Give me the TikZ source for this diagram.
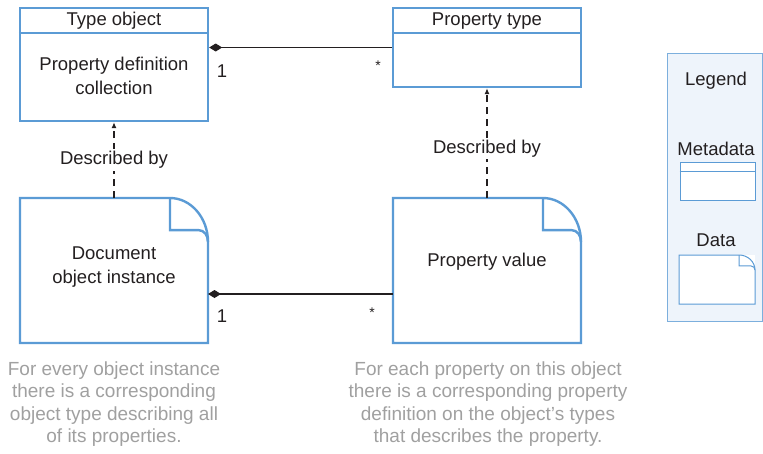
\documentclass[tikz,border=0pt]{standalone}
\usepackage{fontspec}
\setmainfont{Liberation Sans}
\usetikzlibrary{arrows.meta}

\definecolor{boxblue}{RGB}{91,155,213}
\definecolor{legendfill}{RGB}{238,244,251}
\definecolor{inkgray}{RGB}{35,31,32}
\definecolor{notegray}{RGB}{160,160,160}

% sheet with a folded corner, drawn round an empty node
\newcommand\foldedsheet[4]{%
  \draw[#4] (#1.north west) -- ([xshift=-#2]#1.north east)
    .. controls ([xshift=-#2*0.45]#1.north east) and ([yshift=-#3*0.45]#1.north east) .. ([yshift=-#3]#1.north east)
    -- (#1.south east) -- (#1.south west) -- cycle;
  \draw[#4] ([xshift=-#2]#1.north east) -- ([xshift=-#2,yshift=-#3*0.73]#1.north east)
    -- ([xshift=-#2*0.25,yshift=-#3*0.73]#1.north east)
    .. controls ([xshift=-#2*0.1,yshift=-#3*0.73]#1.north east) and ([yshift=-#3*0.85]#1.north east) .. ([yshift=-#3]#1.north east);
}

\tikzset{
  boxline/.style={draw=boxblue,line width=2.4pt},
  thinline/.style={draw=boxblue,line width=1pt},
  box/.style={rectangle,boxline,minimum width=188pt,inner sep=0pt},
  sheet/.style={rectangle,draw=none,minimum width=188pt,minimum height=145pt,inner sep=0pt,outer sep=0pt},
  owns/.style={draw=inkgray,line width=1.4pt,{Diamond[length=13pt,width=8pt]}-},
  describes/.style={draw=inkgray,line width=1.1pt,dash pattern=on 7pt off 5pt,-{Latex[length=6pt,width=5pt]}},
  note/.style={font=\fontsize{19}{22.4}\selectfont,text=notegray,align=center},
  starmark/.style={font=\fontsize{14}{16}\selectfont}
}

\begin{document}
\begin{tikzpicture}[x=1pt,y=-1pt,
    every node/.style={font=\fontsize{18.5}{24}\selectfont,text=inkgray,align=center}]
  \useasboundingbox (0,0) rectangle (763,453);

  % metadata boxes
  \node[box,minimum height=113pt] (typeobj) at (114,64.5) {};
  \node (typehead) at (114,21) {Type object};
  \draw[boxline] ([yshift=-26pt]typeobj.north west) -- ([yshift=-26pt]typeobj.north east);
  \node (typebody) at (114,76) {Property definition\\collection};

  \node[box,minimum height=79pt] (proptype) at (487,47.5) {};
  \node (prophead) at (487,21) {Property type};
  \draw[boxline] ([yshift=-26pt]proptype.north west) -- ([yshift=-26pt]proptype.north east);

  % data sheets
  \node[sheet] (docinst) at (114,270.5) {};
  \foldedsheet{docinst}{38pt}{44pt}{boxline}
  \node (doctext) at (114,267) {Document\\object instance};

  \node[sheet] (propval) at (487,270.5) {};
  \foldedsheet{propval}{38pt}{44pt}{boxline}
  \node (valtext) at (487,262) {Property value};

  % connectors
  \draw[owns] (proptype.west -| typeobj.east) -- (proptype.west);
  \node (multa) at (222,71) {1};
  \node[starmark] (multb) at (378,66) {*};

  \coordinate (docjoin) at ([yshift=-23.5pt]docinst.east);
  \draw[owns] (docjoin) -- (docjoin -| propval.west);
  \node (multc) at (222,316) {1};
  \node[starmark] (multd) at (372,313) {*};

  \draw[describes] (docinst.north) -- node[fill=white,inner sep=2pt] (descra) {Described by} (typeobj.south);
  \draw[describes] (propval.north) -- node[pos=0.45,fill=white,inner sep=2pt] (descrb) {Described by} (propval.north |- proptype.south);

  % notes
  \node[note] (notea) at (114,404) {For every object instance\\there is a corresponding\\object type describing all\\of its properties.};
  \node[note] (noteb) at (488,404) {For each property on this object\\there is a corresponding property\\definition on the object’s types\\that describes the property.};

  % legend
  \node[rectangle,draw=boxblue!80,fill=legendfill,line width=1pt,minimum width=95pt,minimum height=268pt,inner sep=0pt] (legend) at (714.5,187) {};
  \node (legtitle) at (716,81) {Legend};
  \node (legmeta) at (716,149) {Metadata};
  \node[rectangle,thinline,fill=white,minimum width=75pt,minimum height=38pt,inner sep=0pt] (metaicon) at (717.5,181) {};
  \draw[thinline] ([yshift=-10pt]metaicon.north west) -- ([yshift=-10pt]metaicon.north east);
  \node (legdata) at (716,240) {Data};
  \node[rectangle,fill=white,minimum width=76pt,minimum height=49pt,inner sep=0pt,outer sep=0pt] (dataicon) at (717,279.5) {};
  \foldedsheet{dataicon}{16pt}{15pt}{thinline}
\end{tikzpicture}
\end{document}
